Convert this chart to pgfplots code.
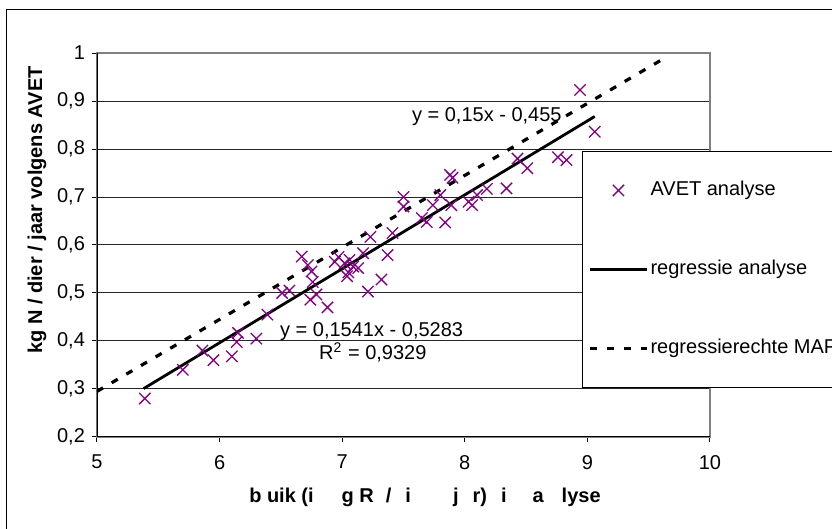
\documentclass[border=0pt]{standalone}
\usepackage{fontspec}
\setmainfont{Liberation Sans}
\usepackage{pgfplots}
\pgfplotsset{compat=1.18}
\definecolor{avet}{RGB}{128,0,128}

\pgfplotstableread{
x y
5.39 0.280
5.70 0.340
5.86 0.380
5.95 0.360
6.10 0.368
6.14 0.398
6.15 0.417
6.30 0.405
6.39 0.455
6.51 0.500
6.57 0.505
6.67 0.576
6.72 0.558
6.75 0.545
6.76 0.523
6.74 0.486
6.79 0.497
6.88 0.470
6.94 0.565
6.97 0.575
7.02 0.562
7.04 0.535
7.05 0.543
7.06 0.569
7.09 0.555
7.13 0.552
7.17 0.583
7.23 0.617
7.21 0.503
7.32 0.528
7.37 0.579
7.41 0.625
7.50 0.700
7.50 0.680
7.65 0.656
7.69 0.648
7.74 0.683
7.80 0.704
7.84 0.647
7.88 0.746
7.90 0.740
7.89 0.683
8.03 0.690
8.06 0.683
8.10 0.704
8.18 0.717
8.34 0.718
8.43 0.780
8.51 0.760
8.76 0.783
8.83 0.777
8.94 0.923
9.06 0.836
}\avet

\begin{document}
\begin{tikzpicture}[font=\fontsize{10}{12}\selectfont]
\begin{axis}[
  name=ax, at={(0,0)}, anchor=south west,
  scale only axis, width=306.5pt, height=192pt,
  xmin=5, xmax=10, ymin=0.2, ymax=1,
  xtick={5,6,7,8,9,10},
  xticklabels={5,6,7,8,9,10},
  ytick={0.2,0.3,0.4,0.5,0.6,0.7,0.8,0.9,1},
  yticklabels={{0,2},{0,3},{0,4},{0,5},{0,6},{0,7},{0,8},{0,9},1},
  tick align=outside, major tick length=2.5pt,
  xtick pos=bottom, ytick pos=left,
  tick style={black, line width=0.5pt},
  ymajorgrids, grid style={black!85, line width=0.5pt},
  axis line style={gray, line width=0.6pt},
  xticklabel style={yshift=-3pt},
  xlabel={\bfseries b uik (i\hspace{1.4em}g R\hspace{0.6em}/\hspace{0.7em}i\hspace{2.1em}j\hspace{0.7em}r)\hspace{0.7em}i\hspace{1.3em}a\hspace{0.9em}lyse},
  ylabel={\bfseries kg N / dier / jaar volgens AVET},
  x label style={at={(axis description cs:0.535,-0.156)}, anchor=center},
  y label style={at={(axis description cs:-0.098,0.591)}, anchor=center, rotate=0},
  legend cell align=left,
  legend style={at={(0.791,0.745)}, anchor=north west, draw=black, line width=0.5pt,
    fill=white, inner xsep=3pt, inner ysep=15pt, row sep=30.5pt,
    nodes={inner xsep=1pt, inner ysep=0pt, text height=7pt, text depth=2pt}},
  legend image code/.code={\draw[mark repeat=2,mark phase=2] plot coordinates {(0pt,0pt) (14.25pt,0pt) (28.5pt,0pt)};},
]
\addplot[only marks, mark=x, mark size=4pt, color=avet, line width=0.65pt] table {\avet};
\addlegendentry{\makebox[105pt][l]{AVET analyse}}
\addplot[black, line width=1.4pt] coordinates {(5.38,0.3008) (9.06,0.8678)};
\addlegendentry{regressie analyse}
\addplot[black, line width=1.6pt, dash pattern=on 3.5pt off 5pt] coordinates {(5,0.295) (9.63,0.9895)};
\addlegendentry{regressierechte MAP}
\draw[black, line width=0.6pt] (rel axis cs:0,0) -- (rel axis cs:0,1);
\draw[black, line width=0.6pt] (rel axis cs:0,0) -- (rel axis cs:1,0);
\node at (axis cs:8.18,0.867) {y = 0,15x - 0,455};
\node at (axis cs:7.24,0.419) {y = 0,1541x - 0,5283};
\node at (axis cs:7.25,0.376) {R\textsuperscript{2} = 0,9329};
\end{axis}
\draw[black, line width=0.5pt] (-45pt,-60pt) -- (-45pt,213.5pt) -- (420pt,213.5pt);
\pgfresetboundingbox
\path[use as bounding box] (-48.5pt,-46pt) rectangle (367.5pt,218.5pt);
\end{tikzpicture}
\end{document}
